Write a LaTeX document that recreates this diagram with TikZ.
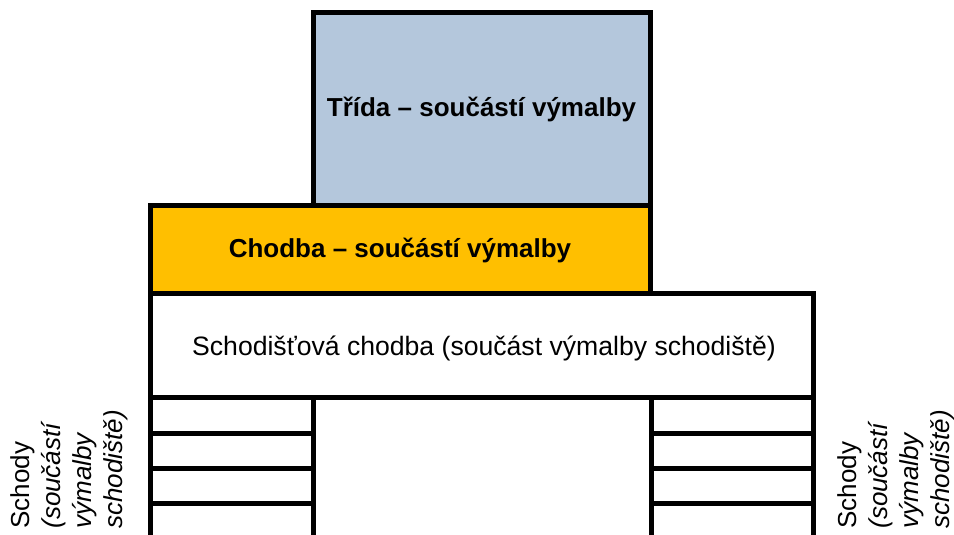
\documentclass[tikz,border=0pt]{standalone}
\usepackage{fontspec}
\setmainfont{Liberation Sans}
\definecolor{tridablue}{HTML}{B4C7DC}
\definecolor{chodbaorange}{HTML}{FFBF00}

\begin{document}
\begin{tikzpicture}[x=0.5pt,y=-0.5pt,
    room/.style={draw=black, line width=2.5pt},
    label/.style={font=\fontsize{13}{15.5}\selectfont, inner sep=0pt},
    stair/.style={line width=2.5pt},
    side/.style={label, align=left, rotate=90, anchor=north west}]

    \useasboundingbox (0,0) rectangle (954,535);
    \clip (0,0) rectangle (954,535);

    % rooms
    \draw[room, fill=tridablue] (313,13) rectangle (650,206);
    \draw[room, fill=chodbaorange] (150,206) rectangle (650,293);
    \draw[room, fill=white] (150,293) rectangle (813,397);

    \node[label, font=\fontsize{13}{15.5}\selectfont\bfseries] (trida) at (481.5,109) {Třída – součástí výmalby};
    \node[label, font=\fontsize{13}{15.5}\selectfont\bfseries] (chodba) at (400,250) {Chodba – součástí výmalby};
    \node[label, font=\fontsize{13.3}{15.5}\selectfont] (schodistovachodba) at (484,348) {Schodišťová chodba (součást výmalby schodiště)};

    % stairs
    \draw[stair] (150,397) -- (150,545);
    \draw[stair] (313,397) -- (313,545);
    \draw[stair] (651,397) -- (651,545);
    \draw[stair] (813,397) -- (813,545);
    \foreach \y in {433,468,503} {
        \draw[stair] (150,\y) -- (313,\y);
        \draw[stair] (651,\y) -- (813,\y);
    }

    \node[side] (schodyleft) at (10,529) {Schody\\\textit{(součástí}\\\textit{výmalby}\\\textit{schodiště)}};
    \node[side] (schodyright) at (837,529) {Schody\\\textit{(součástí}\\\textit{výmalby}\\\textit{schodiště)}};

\end{tikzpicture}
\end{document}
